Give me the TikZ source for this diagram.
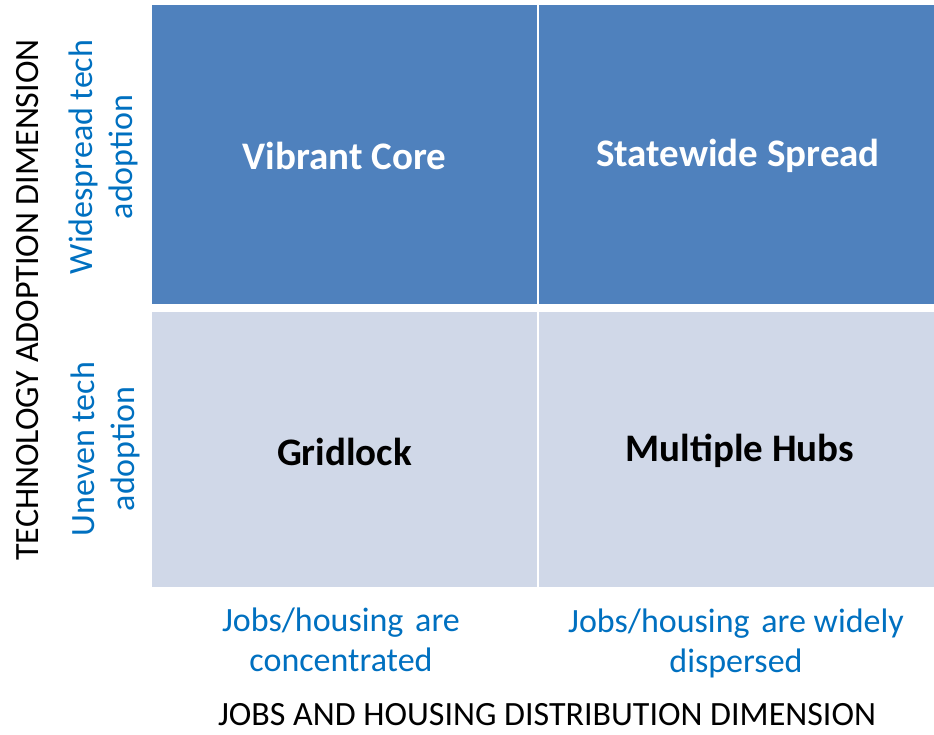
\documentclass[tikz,border=0pt]{standalone}
\usepackage{fontspec}
\setmainfont{Carlito}
\definecolor{darkcell}{HTML}{4F81BD}
\definecolor{lightcell}{HTML}{D0D8E8}
\definecolor{labelblue}{HTML}{0070C0}
\begin{document}
\begin{tikzpicture}[x=1pt,y=-1pt,
    heading/.style={font=\bfseries\fontsize{39}{47}\selectfont},
    axislabel/.style={text=labelblue, align=center, font=\fontsize{34}{40}\selectfont},
    axistitle/.style={font=\fontsize{34}{40}\selectfont}]
        % 画像全体の大きさ
        \useasboundingbox (0,0) rectangle (934,734);
        % 上段の二つの枠を濃い青で塗りつぶす
        \fill[darkcell] (152,5) rectangle (537,304);
        \fill[darkcell] (539,5) rectangle (934,304);
        % 下段の二つの枠を薄い青で塗りつぶす
        \fill[lightcell] (152,312) rectangle (537,587);
        \fill[lightcell] (539,312) rectangle (934,587);
        % 各枠の名前
        \node[heading, text=white] (core) at (344.5,156) {Vibrant Core};
        \node[heading, text=white] (spread) at (738,156) {Statewide Spread};
        \node[heading] (gridlock) at (344.5,452) {Gridlock};
        \node[heading] (hubs) at (740,451) {Multiple Hubs};
        % 縦軸のラベル
        \node[axislabel, rotate=90] (wide) at (103,157) {Widespread tech\\adoption};
        \node[axislabel, rotate=90] (uneven) at (105,449) {Uneven tech\\adoption};
        \node[axistitle, rotate=90] (techdim) at (28,300) {TECHNOLOGY ADOPTION DIMENSION};
        % 横軸のラベル
        \node[axislabel] (concentrated) at (341,640) {Jobs/housing\hspace{0.12em} are\\concentrated};
        \node[axislabel] (dispersed) at (736,643) {Jobs/housing\hspace{0.12em} are widely\\dispersed};
        \node[axistitle, anchor=base, inner sep=0pt, text depth=0pt] (jobsdim) at (547,725) {JOBS AND HOUSING DISTRIBUTION DIMENSION};
      \end{tikzpicture}
\end{document}
